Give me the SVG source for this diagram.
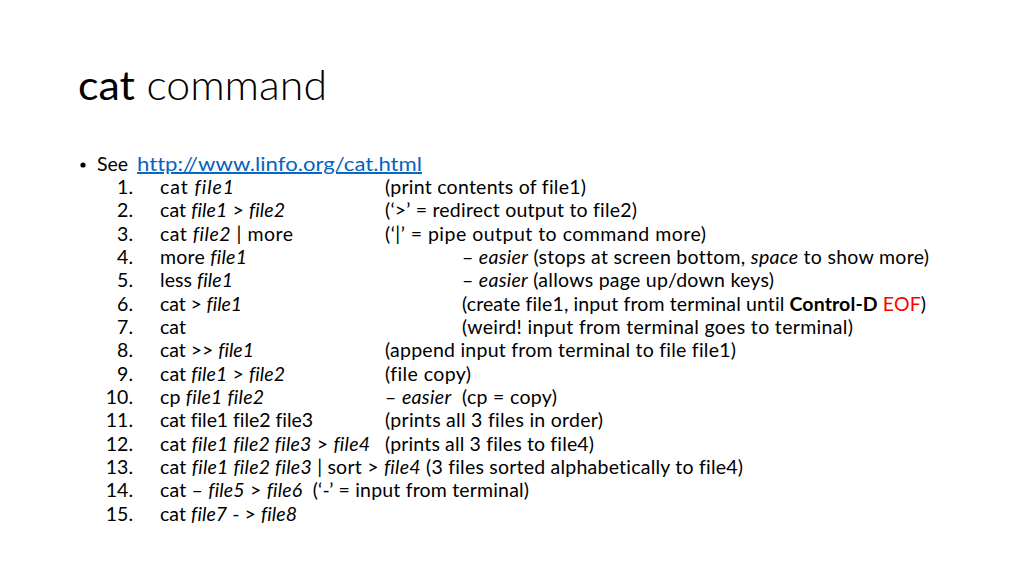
<svg xmlns="http://www.w3.org/2000/svg" width="1024" height="576" viewBox="0 0 1024 576">
<style>
text{font-family:Lato,"Liberation Sans",sans-serif;fill:#000;font-variant-ligatures:none;font-feature-settings:"liga" 0;}
.t{font-size:41px;}
.b{font-size:19.5px;}
.n{font-size:19.5px;text-anchor:end;}
.i{font-style:italic;}
.bd{font-weight:bold;}
.u{fill:#0563C1;text-decoration:underline;}
.r{fill:#FF0000;}
</style>
<rect width="1024" height="576" fill="#fff"/>
<g id="title">
<text class="t" x="78" y="100" textLength="249" lengthAdjust="spacingAndGlyphs"><tspan font-weight="400">cat</tspan><tspan font-weight="300"> command</tspan></text>
</g>
<g id="see">
<circle cx="83" cy="165" r="2.6" fill="#000"/>
<text class="b" x="97" y="171">See</text>
<text class="b u" x="137" y="171" textLength="285" lengthAdjust="spacingAndGlyphs">http://www.linfo.org/cat.html</text>
</g>
<g id="numbers">
<text class="n" x="133" y="194">1.</text>
<text class="n" x="133" y="217">2.</text>
<text class="n" x="133" y="241">3.</text>
<text class="n" x="133" y="264">4.</text>
<text class="n" x="133" y="287">5.</text>
<text class="n" x="133" y="311">6.</text>
<text class="n" x="133" y="334">7.</text>
<text class="n" x="133" y="357">8.</text>
<text class="n" x="133" y="381">9.</text>
<text class="n" x="133" y="404">10.</text>
<text class="n" x="133" y="427">11.</text>
<text class="n" x="133" y="451">12.</text>
<text class="n" x="133" y="474">13.</text>
<text class="n" x="133" y="497">14.</text>
<text class="n" x="133" y="521">15.</text>
</g>
<g id="commands">
<text class="b" x="160" y="194" textLength="74">cat <tspan class="i">file1</tspan></text>
<text class="b" x="160" y="217" textLength="125">cat <tspan class="i">file1</tspan> &gt; <tspan class="i">file2</tspan></text>
<text class="b" x="160" y="241" textLength="133">cat <tspan class="i">file2</tspan> | more</text>
<text class="b" x="160" y="264" textLength="87">more <tspan class="i">file1</tspan></text>
<text class="b" x="160" y="287" textLength="73">less <tspan class="i">file1</tspan></text>
<text class="b" x="160" y="311" textLength="82">cat &gt; <tspan class="i">file1</tspan></text>
<text class="b" x="160" y="334" textLength="26">cat</text>
<text class="b" x="160" y="357" textLength="94">cat &gt;&gt; <tspan class="i">file1</tspan></text>
<text class="b" x="160" y="381" textLength="125">cat <tspan class="i">file1</tspan> &gt; <tspan class="i">file2</tspan></text>
<text class="b" x="160" y="404" textLength="104">cp <tspan class="i">file1 file2</tspan></text>
<text class="b" x="160" y="427" textLength="153">cat file1 file2 file3</text>
<text class="b" x="160" y="451" textLength="210">cat <tspan class="i">file1 file2 file3</tspan> &gt; <tspan class="i">file4</tspan></text>
<text class="b" x="160" y="474" textLength="583">cat <tspan class="i">file1 file2 file3</tspan> | sort &gt; <tspan class="i">file4</tspan> (3 files sorted alphabetically to file4)</text>
<text class="b" x="160" y="497" textLength="369">cat – <tspan class="i">file5</tspan> &gt; <tspan class="i">file6</tspan>&#160; (‘-’ = input from terminal)</text>
<text class="b" x="160" y="521" textLength="137">cat <tspan class="i">file7</tspan> - &gt; <tspan class="i">file8</tspan></text>
</g>
<g id="descriptions">
<text class="b" x="385" y="194" textLength="201">(print contents of file1)</text>
<text class="b" x="385" y="217" textLength="252">(‘&gt;’ = redirect output to file2)</text>
<text class="b" x="385" y="241" textLength="321">(‘|’ = pipe output to command more)</text>
<text class="b" x="462" y="264" textLength="467">– <tspan class="i">easier</tspan> (stops at screen bottom, <tspan class="i">space</tspan> to show more)</text>
<text class="b" x="462" y="287" textLength="312">– <tspan class="i">easier</tspan> (allows page up/down keys)</text>
<text class="b" x="462" y="311" textLength="464">(create file1, input from terminal until <tspan class="bd">Control-D</tspan> <tspan class="r">EOF</tspan>)</text>
<text class="b" x="462" y="334" textLength="391">(weird! input from terminal goes to terminal)</text>
<text class="b" x="385" y="357" textLength="351">(append input from terminal to file file1)</text>
<text class="b" x="385" y="381" textLength="86">(file copy)</text>
<text class="b" x="385" y="404" textLength="172">– <tspan class="i">easier</tspan>&#160; (cp = copy)</text>
<text class="b" x="385" y="427" textLength="218">(prints all 3 files in order)</text>
<text class="b" x="385" y="451" textLength="209">(prints all 3 files to file4)</text>
</g>
</svg>
